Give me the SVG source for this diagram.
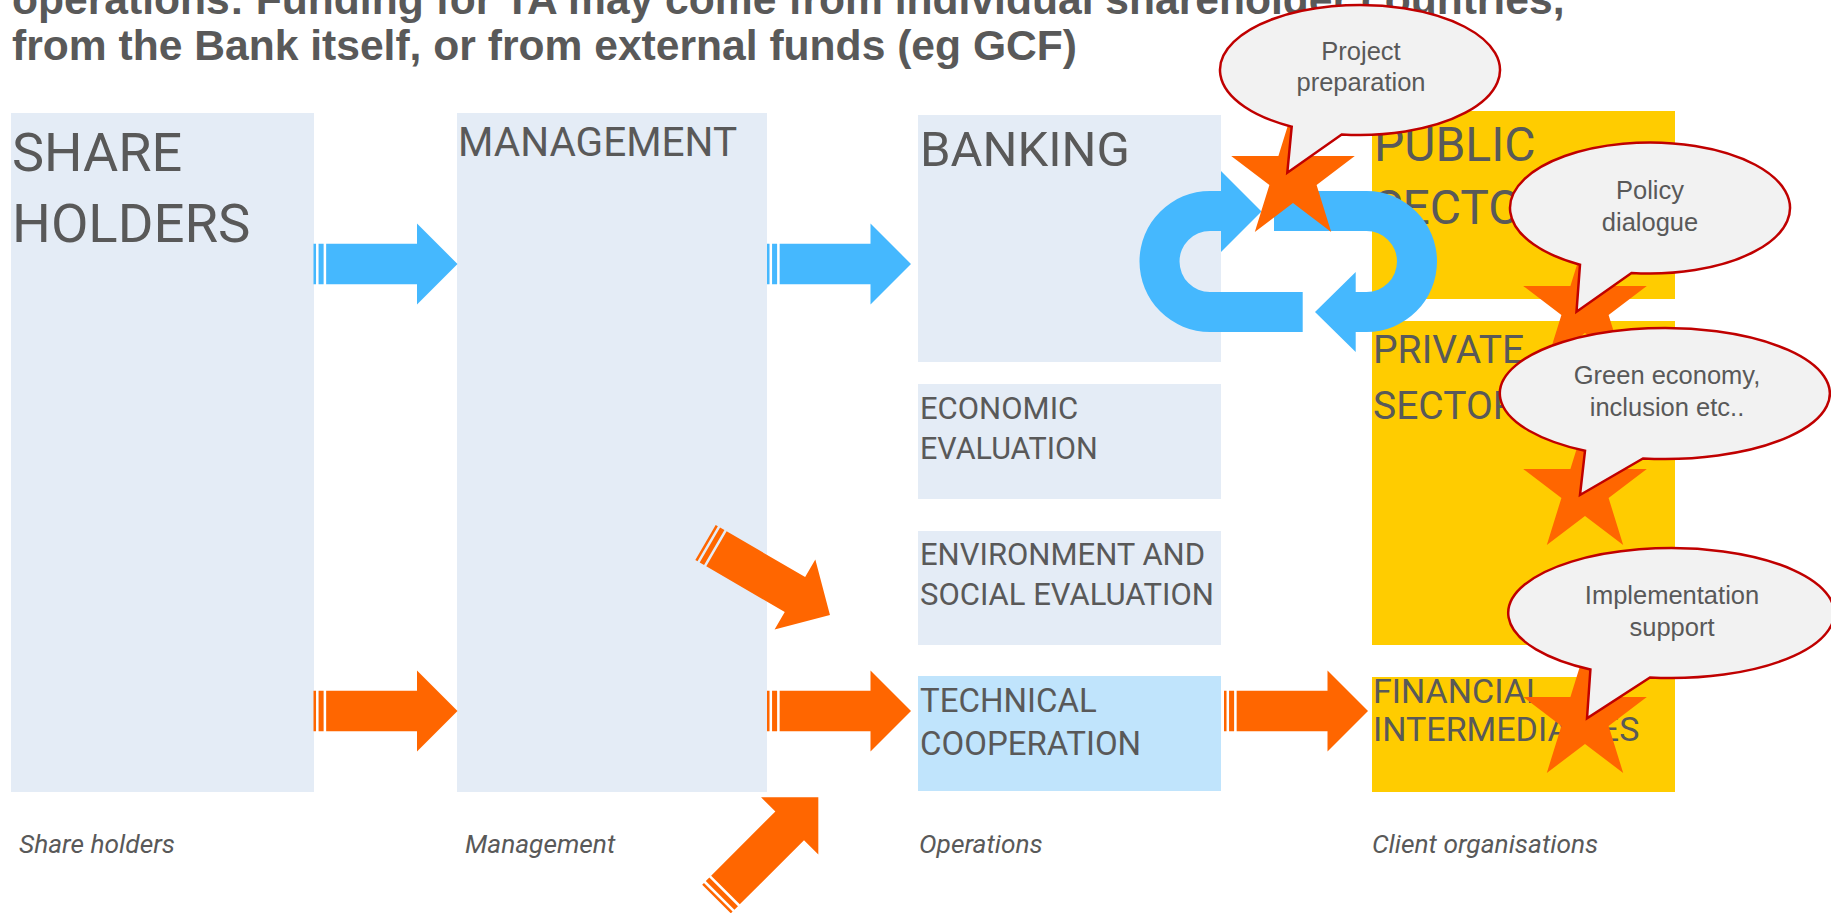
<svg xmlns="http://www.w3.org/2000/svg" xmlns:xlink="http://www.w3.org/1999/xlink" width="1831" height="913" viewBox="0 0 1831 913">
  <style>
    .title { font-family: "Liberation Sans", Arial, sans-serif; font-weight: bold; font-size: 42.6px; fill: #595959; }
    .lbl { font-family: Roboto, "Liberation Sans", sans-serif; fill: #595959; }
    .cap { font-family: Roboto, "Liberation Sans", sans-serif; font-style: italic; font-size: 26.3px; fill: #595959; }
    .bub { font-family: "Liberation Sans", Arial, sans-serif; font-size: 25.5px; fill: #595959; text-anchor: middle; }
    .pale { fill: #E4ECF6; }
    .tc { fill: #C0E4FC; }
    .client { fill: #FFCC00; }
    .blue { fill: #45B8FE; }
    .orange { fill: #FF6600; }
    .callout { fill: #F2F2F2; stroke: #C00000; stroke-width: 2.5; stroke-linejoin: miter; }
  </style>
  <defs>
    <!-- striped block arrow, tail at origin, pointing along +x -->
    <path id="striped-arrow" d="M0,-20.25h2.53v40.5h-2.53z M5.06,-20.25h5.06v40.5h-5.06z M12.66,-20.25H103.5V-40.5L144,0L103.5,40.5V20.25H12.66z"/>
    <!-- five-point star centred on origin -->
    <polygon id="star" points="0,-68 14.6,-21 61.8,-21 23.6,8 38.2,55 0,26 -38.2,55 -23.6,8 -61.8,-21 -14.6,-21"/>
  </defs>

  <rect width="1831" height="913" fill="#FFFFFF"/>

  <!-- heading (first line runs off the top edge) -->
  <g id="heading">
    <text class="title" x="12" y="14">operations: Funding for TA may come from individual shareholder countries,</text>
    <text class="title" x="12" y="60">from the Bank itself, or from external funds (eg GCF)</text>
  </g>

  <g id="shareholders">
    <rect class="pale" x="11" y="113" width="303" height="679"/>
    <text class="lbl" x="12" y="171" font-size="54">SHARE</text>
    <text class="lbl" x="12" y="242" font-size="54.5">HOLDERS</text>
  </g>

  <g id="management">
    <rect class="pale" x="457" y="113" width="310" height="679"/>
    <text class="lbl" x="458" y="156" font-size="40.5">MANAGEMENT</text>
  </g>

  <g id="banking">
    <rect class="pale" x="918" y="115" width="303" height="247"/>
    <text class="lbl" x="920" y="166" font-size="49">BANKING</text>
  </g>

  <g id="economic-evaluation">
    <rect class="pale" x="918" y="384" width="303" height="115"/>
    <text class="lbl" x="920" y="419" font-size="31">ECONOMIC</text>
    <text class="lbl" x="920" y="459" font-size="30.5">EVALUATION</text>
  </g>

  <g id="env-social-evaluation">
    <rect class="pale" x="918" y="531" width="303" height="114"/>
    <text class="lbl" x="920" y="565" font-size="31">ENVIRONMENT AND</text>
    <text class="lbl" x="920" y="605" font-size="31">SOCIAL EVALUATION</text>
  </g>

  <g id="technical-cooperation">
    <rect class="tc" x="918" y="676" width="303" height="115"/>
    <text class="lbl" x="920" y="712" font-size="33">TECHNICAL</text>
    <text class="lbl" x="920" y="755" font-size="33">COOPERATION</text>
  </g>

  <g id="public-sector">
    <rect class="client" x="1372" y="111" width="303" height="188"/>
    <text class="lbl" x="1374" y="161" font-size="48">PUBLIC</text>
    <text class="lbl" x="1374" y="224" font-size="48">SECTOR</text>
  </g>

  <g id="private-sector">
    <rect class="client" x="1372" y="321" width="303" height="324"/>
    <text class="lbl" x="1373" y="363" font-size="39">PRIVATE</text>
    <text class="lbl" x="1373" y="419" font-size="39">SECTOR</text>
  </g>

  <g id="financial-intermediaries">
    <rect class="client" x="1372" y="677" width="303" height="115"/>
    <text class="lbl" x="1373" y="703" font-size="34">FINANCIAL</text>
    <text class="lbl" x="1373" y="741" font-size="34">INTERMEDIARIES</text>
  </g>

  <g id="captions">
    <text class="cap" x="19" y="853">Share holders</text>
    <text class="cap" x="465" y="853">Management</text>
    <text class="cap" x="919" y="853">Operations</text>
    <text class="cap" x="1372" y="853">Client organisations</text>
  </g>

  <g id="connectors">
    <use href="#striped-arrow" xlink:href="#striped-arrow" class="blue" transform="translate(313.5,264)"/>
    <use href="#striped-arrow" xlink:href="#striped-arrow" class="blue" transform="translate(767,264)"/>
    <use href="#striped-arrow" xlink:href="#striped-arrow" class="orange" transform="translate(313.5,711)"/>
    <use href="#striped-arrow" xlink:href="#striped-arrow" class="orange" transform="translate(767,711)"/>
    <use href="#striped-arrow" xlink:href="#striped-arrow" class="orange" transform="translate(1224,711)"/>
    <use href="#striped-arrow" xlink:href="#striped-arrow" class="orange" transform="translate(705.5,542.5) rotate(30.2)"/>
    <use href="#striped-arrow" xlink:href="#striped-arrow" class="orange" transform="translate(716.5,899) rotate(-45)"/>
    <!-- circular loop between banking and the public sector -->
    <path class="blue" d="M1302.7,292 L1210,292 A30.5,30.5 0 0 1 1210,231 L1221,231 L1221,252 L1261.5,211.5 L1221,171 L1221,191 L1210,191 A70.5,70.5 0 0 0 1210,332 L1302.7,332 Z"/>
    <path class="blue" d="M1274,191 L1366.5,191 A70.5,70.5 0 0 1 1366.5,332 L1355.7,332 L1355.7,352 L1315,312 L1355.7,272 L1355.7,292 L1366.5,292 A30.5,30.5 0 0 0 1366.5,231 L1274,231 Z"/>
  </g>

  <g id="stars">
    <use href="#star" xlink:href="#star" class="orange" transform="translate(1293,177)"/>
    <use href="#star" xlink:href="#star" class="orange" transform="translate(1585,307)"/>
    <use href="#star" xlink:href="#star" class="orange" transform="translate(1585,490)"/>
    <use href="#star" xlink:href="#star" class="orange" transform="translate(1585,718)"/>
  </g>

  <g id="callout-project-preparation">
    <path class="callout" d="M1291.7,126.7 A140,65 0 1 1 1341.7,134.4 L1287.3,172.7 Z"/>
    <text class="bub" x="1361" y="60">Project</text>
    <text class="bub" x="1361" y="91">preparation</text>
  </g>

  <g id="callout-policy-dialogue">
    <path class="callout" d="M1580,264.7 A140,65.5 0 1 1 1631.5,272.9 L1576.5,311.7 Z"/>
    <text class="bub" x="1650" y="199">Policy</text>
    <text class="bub" x="1650" y="231">dialogue</text>
  </g>

  <g id="callout-green-economy">
    <path class="callout" d="M1585,450.8 A165,65.5 0 1 1 1643,458.4 L1580,495 Z"/>
    <text class="bub" x="1667" y="384">Green economy,</text>
    <text class="bub" x="1667" y="416">inclusion etc..</text>
  </g>

  <g id="callout-implementation-support">
    <path class="callout" d="M1590.4,669.5 A163,65 0 1 1 1650,677.5 L1587,718.3 Z"/>
    <text class="bub" x="1672" y="604">Implementation</text>
    <text class="bub" x="1672" y="636">support</text>
  </g>
</svg>
